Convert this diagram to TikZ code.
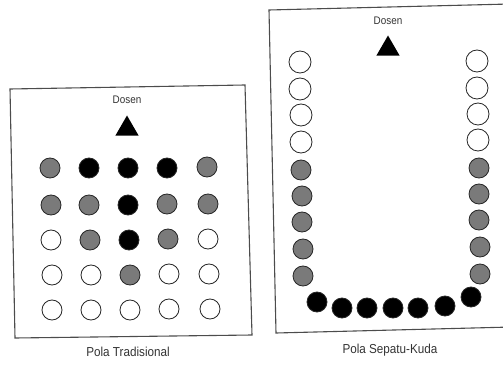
\documentclass[tikz,border=0pt]{standalone}
\usepackage{fontspec}
\newfontfamily\labelfont[FakeStretch=0.9]{Liberation Sans}
\usepackage{tikz}
\usetikzlibrary{shapes.geometric,positioning}

\begin{document}
\begin{tikzpicture}[x=1pt,y=-1pt]
			\tikzstyle{Seat}	= [circle, draw=black!85, line width=0.8pt, fill=white, minimum size=20pt, inner sep=0pt]
			\tikzstyle{Big}		= [minimum size=22pt]
			\tikzstyle{Empty}	= [fill = white]
			\tikzstyle{Half}	= [fill = black!52]
			\tikzstyle{Full}	= [fill = black]
			\tikzstyle{Lecturer}	= [regular polygon, regular polygon sides=3, fill=black, minimum size=27pt, inner sep=0pt]
			\tikzstyle{Room}	= [draw=black!70, line width=1.1pt]
			\tikzstyle{Title}	= [font=\labelfont\fontsize{11}{12}\selectfont, text=black!80]
			\tikzstyle{Caption}	= [font=\labelfont\fontsize{13}{14}\selectfont, text=black!80]

			\useasboundingbox (0,0) rectangle (503,366);
			\clip (0,0) rectangle (503,366);

			% rooms (slightly skewed)
			\draw [Room] (10,89) -- (245,85) -- (252,335) -- (15,338) -- cycle;
			\draw [Room] (269,10) -- (510,4) -- (512,327) -- (276,333) -- cycle;

			% traditional layout
			\node (d1) at (127,100) [Title] {Dosen};
			\node (p1) at (127,129) [Lecturer] {};

			\node (a11) at (50,168) [Seat][Half] {};
			\node (a12) at (89,168) [Seat][Full] {};
			\node (a13) at (128,168) [Seat][Full] {};
			\node (a14) at (167,168) [Seat][Full] {};
			\node (a15) at (207,167) [Seat][Half] {};
			\node (a21) at (51,205) [Seat][Half] {};
			\node (a22) at (89,205) [Seat][Half] {};
			\node (a23) at (128,205) [Seat][Full] {};
			\node (a24) at (167,204) [Seat][Half] {};
			\node (a25) at (208,204) [Seat][Half] {};
			\node (a31) at (51,240) [Seat][Empty] {};
			\node (a32) at (90,240) [Seat][Half] {};
			\node (a33) at (129,240) [Seat][Full] {};
			\node (a34) at (168,239) [Seat][Half] {};
			\node (a35) at (208,239) [Seat][Empty] {};
			\node (a41) at (52,275) [Seat][Empty] {};
			\node (a42) at (91,275) [Seat][Empty] {};
			\node (a43) at (130,275) [Seat][Half] {};
			\node (a44) at (169,274) [Seat][Empty] {};
			\node (a45) at (209,274) [Seat][Empty] {};
			\node (a51) at (52,310) [Seat][Empty] {};
			\node (a52) at (91,310) [Seat][Empty] {};
			\node (a53) at (130,310) [Seat][Empty] {};
			\node (a54) at (169,309) [Seat][Empty] {};
			\node (a55) at (210,309) [Seat][Empty] {};

			\node (c1) at (128,352) [Caption] {Pola Tradisional};

			% horseshoe layout
			\node (d2) at (388,21) [Title] {Dosen};
			\node (p2) at (388,49) [Lecturer] {};

			\node (l1) at (300,62) [Seat][Big][Empty] {};
			\node (l2) at (300,89) [Seat][Big][Empty] {};
			\node (l3) at (301,115) [Seat][Big][Empty] {};
			\node (l4) at (301,142) [Seat][Big][Empty] {};
			\node (l5) at (301,170) [Seat][Half] {};
			\node (l6) at (302,196) [Seat][Half] {};
			\node (l7) at (302,222) [Seat][Half] {};
			\node (l8) at (303,249) [Seat][Half] {};
			\node (l9) at (303,276) [Seat][Half] {};

			\node (r1) at (477,61) [Seat][Big][Empty] {};
			\node (r2) at (477,88) [Seat][Big][Empty] {};
			\node (r3) at (478,114) [Seat][Big][Empty] {};
			\node (r4) at (478,140) [Seat][Big][Empty] {};
			\node (r5) at (479,168) [Seat][Half] {};
			\node (r6) at (479,194) [Seat][Half] {};
			\node (r7) at (479,220) [Seat][Half] {};
			\node (r8) at (480,247) [Seat][Half] {};
			\node (r9) at (480,274) [Seat][Half] {};

			\node (b1) at (317,302) [Seat][Full] {};
			\node (b2) at (342,308) [Seat][Full] {};
			\node (b3) at (367,308) [Seat][Full] {};
			\node (b4) at (393,308) [Seat][Full] {};
			\node (b5) at (418,308) [Seat][Full] {};
			\node (b6) at (445,306) [Seat][Full] {};
			\node (b7) at (471,297) [Seat][Full] {};

			\node (c2) at (390,350) [Caption] {Pola Sepatu-Kuda};
\end{tikzpicture}
\end{document}
